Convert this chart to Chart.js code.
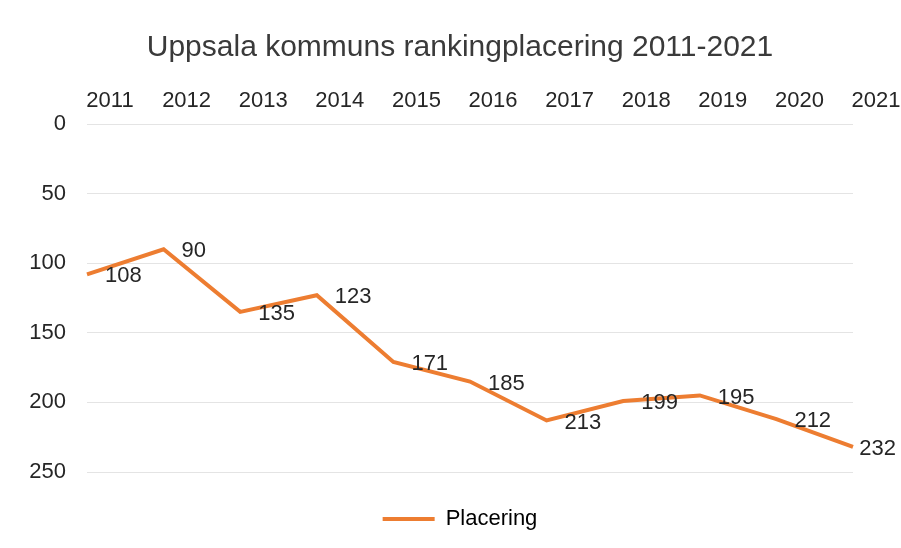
<!DOCTYPE html>
<html lang="sv">
<head>
  <meta charset="UTF-8" />
  <title>Uppsala kommuns rankingplacering</title>
  <script src="https://cdn.jsdelivr.net/npm/chart.js"></script>
  <style>
    body { margin: 0; background: #fff; }
    canvas { display: block; }
  </style>
</head>
<body>
  <canvas id="rankChart" width="901" height="548"></canvas>

  <script>
  // data
  const years = ['2011', '2012', '2013', '2014', '2015', '2016', '2017', '2018', '2019', '2020', '2021'];
  const placering = [108, 90, 135, 123, 171, 185, 213, 199, 195, 212, 232];
  const yTicks = [0, 50, 100, 150, 200, 250];

  const orange = '#ED7D31';
  const textDark = '#262626';
  const titleGray = '#3a3a3a';
  const fontFamily = "'Liberation Sans', Arial, sans-serif";

  // draws the value next to each point, pulled back in at the right edge
  const valueLabels = {
    id: 'valueLabels',
    afterDatasetsDraw(chart) {
      const ctx = chart.ctx;
      const meta = chart.getDatasetMeta(0);
      ctx.save();
      ctx.font = '22px ' + fontFamily;
      ctx.fillStyle = textDark;
      ctx.textAlign = 'left';
      ctx.textBaseline = 'middle';
      meta.data.forEach((pt, i) => {
        const txt = String(placering[i]);
        const w = ctx.measureText(txt).width;
        const x = Math.min(pt.x + 18, chart.width - 5 - w);
        ctx.fillText(txt, x, pt.y + 2);
      });
      ctx.restore();
    }
  };

  // empty axes, only used to reserve space
  const spacer = size => ({
    display: true,
    grid: { display: false, drawTicks: false },
    border: { display: false },
    ticks: { display: false },
    afterFit: scale => {
      if (scale.isHorizontal()) scale.height = size; else scale.width = size;
    }
  });

  const ctx = document.getElementById('rankChart').getContext('2d');
  new Chart(ctx, {
    type: 'line',
    data: {
      labels: years,
      datasets: [{
        label: 'Placering',
        data: placering,
        borderColor: orange,
        backgroundColor: orange,
        borderWidth: 4,
        pointRadius: 0,
        tension: 0,
        fill: false
      }]
    },
    options: {
      responsive: false,
      animation: false,
      layout: { padding: { left: 19, right: 0, top: 0, bottom: 8 } },
      plugins: {
        title: {
          display: true,
          text: 'Uppsala kommuns rankingplacering 2011-2021',
          color: titleGray,
          font: { family: fontFamily, size: 30, weight: 'normal' },
          padding: { top: 30, bottom: 0 }
        },
        legend: {
          position: 'bottom',
          labels: {
            color: textDark,
            font: { family: fontFamily, size: 22 },
            boxWidth: 52,
            boxHeight: 4,
            padding: 6,
            generateLabels: chart => [{
              text: 'Placering',
              fillStyle: orange,
              strokeStyle: orange,
              lineWidth: 0,
              datasetIndex: 0
            }]
          }
        },
        tooltip: { enabled: false }
      },
      scales: {
        x: {
          position: 'top',
          offset: false,
          grid: { display: false, drawTicks: false },
          border: { display: false },
          ticks: {
            color: textDark,
            font: { family: fontFamily, size: 22 },
            padding: 10,
            labelOffset: 23,
            maxRotation: 0,
            autoSkip: false
          },
          afterFit: scale => { scale.height = 58; }
        },
        xBottom: Object.assign({ type: 'category', position: 'bottom' }, spacer(30)),
        y: {
          reverse: true,
          min: 0,
          max: 250,
          afterBuildTicks: scale => { scale.ticks = yTicks.map(v => ({ value: v })); },
          grid: { color: '#e4e4e4', lineWidth: 1, drawTicks: false },
          border: { display: false },
          ticks: {
            color: textDark,
            font: { family: fontFamily, size: 22 },
            padding: 21
          },
          afterFit: scale => { scale.width = 68; }
        },
        yRight: Object.assign({ type: 'linear', position: 'right' }, spacer(48))
      }
    },
    plugins: [valueLabels]
  });
  </script>
</body>
</html>
